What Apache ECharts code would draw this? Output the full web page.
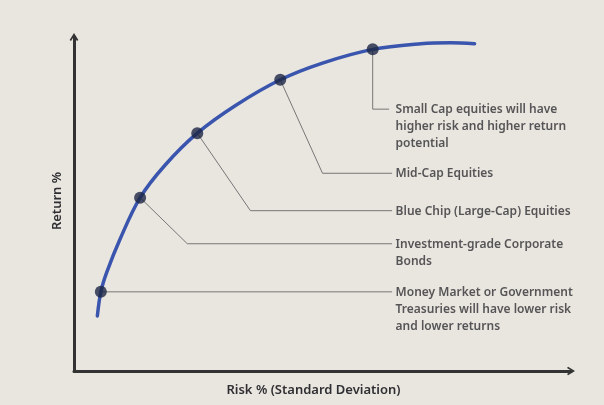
<!DOCTYPE html>
<html>
<head>
<meta charset="utf-8">
<title>Efficient frontier</title>
<script src="https://cdn.jsdelivr.net/npm/echarts@6/dist/echarts.min.js"></script>
<style>
  html, body { margin: 0; padding: 0; background: #e9e5df; }
  #chart { width: 604px; height: 405px; }
</style>
</head>
<body>
<div id="chart"></div>
<script>
// curve (risk, return)
var curveX = [4.7, 5.4, 6.6, 9.3, 13.3, 18.3, 24.8, 32.5, 41.5, 50.0, 60.1, 69.8, 75.8, 80.6];
var curveY = [16.5, 23.7, 29.6, 39.6, 51.9, 61.6, 71.2, 79.5, 87.2, 92.2, 96.3, 98.0, 98.3, 98.0];

// marked assets on the curve
var pointX = [5.4, 13.3, 24.8, 41.5, 60.1];
var pointY = [23.7, 51.9, 71.2, 87.2, 96.3];

// bend of each leader line and where it meets its text
var bendX = [5.4, 22.8, 35.5, 50.0, 60.1];
var bendY = [23.7, 38.1, 48.0, 59.2, 78.4];
var noteX = [64, 64, 64, 64, 63.4];
var notes = [
  'Money Market or Government\nTreasuries will have lower risk\nand lower returns',
  'Investment-grade Corporate\nBonds',
  'Blue Chip (Large-Cap) Equities',
  'Mid-Cap Equities',
  'Small Cap equities will have\nhigher risk and higher return\npotential'
];

var textColor = '#2f2f33';
var font = '"Noto Sans", sans-serif';
var chevron = 'path://M0,80 L50,0 L100,80 L84,92 L50,36 L16,92 Z';

var chart = echarts.init(document.getElementById('chart'));

var series = [];
series.push({
  type: 'line',
  smooth: 0.35,
  symbol: 'none',
  data: curveX.map(function (x, i) { return [x, curveY[i]]; }),
  lineStyle: { color: '#3a55ad', width: 3.5, cap: 'round' },
  z: 3
});

for (var i = 0; i < pointX.length; i++) {
  series.push({
    type: 'line',
    symbol: 'none',
    data: [[pointX[i], pointY[i]], [bendX[i], bendY[i]], [noteX[i], bendY[i]]],
    lineStyle: { color: '#777', width: 1 },
    z: 2
  });
}

series.push({
  type: 'scatter',
  symbolSize: 1,
  itemStyle: { color: 'rgba(0,0,0,0)' },
  data: notes.map(function (t, i) { return { value: [64, bendY[i]], name: t }; }),
  label: {
    show: true,
    position: 'right',
    distance: 3,
    verticalAlign: 'top',
    offset: [0, -8],
    formatter: function (p) { return p.name; },
    color: textColor,
    fontFamily: font,
    fontWeight: 600,
    fontSize: 12,
    lineHeight: 17
  },
  silent: true,
  z: 4
});

series.push({
  type: 'scatter',
  symbolSize: 12,
  data: pointX.map(function (x, i) { return [x, pointY[i]]; }),
  itemStyle: { color: '#1c2644' },
  z: 5
});

chart.setOption({
  backgroundColor: '#e9e5df',
  animation: false,
  grid: { left: 74, right: 33, top: 37, bottom: 34 },
  xAxis: {
    type: 'value',
    min: 0,
    max: 100,
    name: 'Risk % (Standard Deviation)',
    nameLocation: 'middle',
    nameGap: 13,
    nameTextStyle: { color: textColor, fontFamily: font, fontWeight: 600, fontSize: 13, padding: [0, 18, 0, 0] },
    axisLine: { lineStyle: { color: '#333', width: 3 }, symbol: ['none', chevron], symbolSize: [14, 8] },
    axisTick: { show: false },
    axisLabel: { show: false },
    splitLine: { show: false }
  },
  yAxis: {
    type: 'value',
    min: 0,
    max: 100,
    name: 'Return %',
    nameLocation: 'middle',
    nameGap: 10,
    nameTextStyle: { color: textColor, fontFamily: font, fontWeight: 600, fontSize: 13, padding: [0, 0, 0, 6] },
    axisLine: { lineStyle: { color: '#333', width: 3 }, symbol: ['none', chevron], symbolSize: [14, 8] },
    axisTick: { show: false },
    axisLabel: { show: false },
    splitLine: { show: false }
  },
  series: series
});
</script>
</body>
</html>
